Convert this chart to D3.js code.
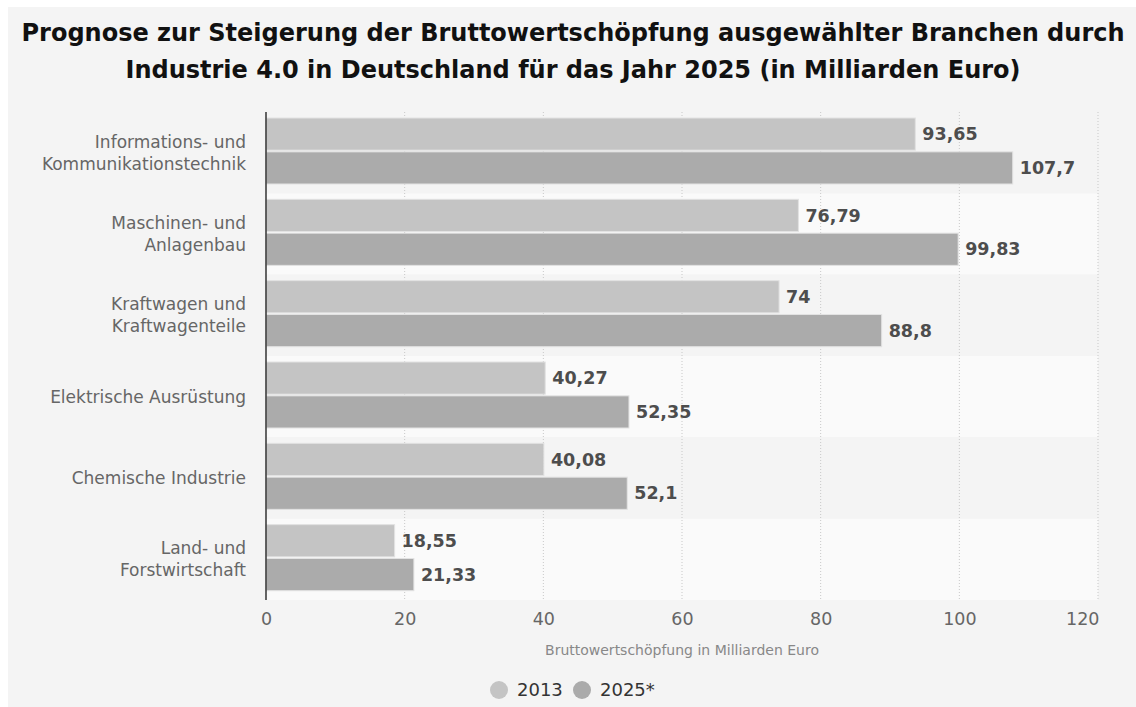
<!DOCTYPE html>
<html>
<head>
<meta charset="utf-8">
<script src="https://cdn.jsdelivr.net/npm/d3@7"></script>
<style>
  body { margin: 0; background: #fff; }
  svg { display: block; font-family: "DejaVu Sans", sans-serif; }
</style>
</head>
<body>
<script>
const categories = [
  ['Informations- und', 'Kommunikationstechnik'],
  ['Maschinen- und', 'Anlagenbau'],
  ['Kraftwagen und', 'Kraftwagenteile'],
  ['Elektrische Ausrüstung'],
  ['Chemische Industrie'],
  ['Land- und', 'Forstwirtschaft']
];
const series = ['2013', '2025*'];
const values2013 = [93.65, 76.79, 74, 40.27, 40.08, 18.55];
const values2025 = [107.7, 99.83, 88.8, 52.35, 52.1, 21.33];
const xTicks = [0, 20, 40, 60, 80, 100, 120];

const width = 1136;
const height = 707;
const margin = {top: 112, right: 38, bottom: 107, left: 266};
const colors = ['#c4c4c4', '#ababab'];

const svg = d3.select('body')
  .append('svg')
    .attr('width', width)
    .attr('height', height);

// panel background
svg.append('rect')
    .attr('x', 8).attr('y', 7)
    .attr('width', width - 8).attr('height', height - 7)
    .attr('fill', '#f4f4f4');

const x = d3.scaleLinear()
  .domain([0, 120])
  .range([margin.left, width - margin.right]);

const y = d3.scaleBand()
  .domain(d3.range(categories.length))
  .range([margin.top, height - margin.bottom]);

// the bar pair sits a bit high inside each band
const inner = d3.scaleBand()
  .domain(series)
  .range([6, 72])
  .paddingInner(0.05);

// alternating bands
svg.append('g')
  .selectAll('rect')
  .data(categories)
  .enter().append('rect')
    .attr('x', x(0))
    .attr('y', (d, i) => y(i))
    .attr('width', x(120) - x(0))
    .attr('height', y.bandwidth())
    .attr('fill', (d, i) => i % 2 ? '#fafafa' : '#f4f4f4');

// grid
svg.append('g')
  .selectAll('line')
  .data(xTicks.slice(1))
  .enter().append('line')
    .attr('x1', d => x(d)).attr('x2', d => x(d))
    .attr('y1', margin.top).attr('y2', height - margin.bottom)
    .attr('stroke', '#c8c8c8')
    .attr('stroke-dasharray', '1,2');

// bars
const rows = categories.map((c, i) => [values2013[i], values2025[i]]);
const groups = svg.append('g')
  .selectAll('g')
  .data(rows)
  .enter().append('g')
    .attr('transform', (d, i) => `translate(0, ${y(i)})`);

groups.selectAll('rect')
  .data(d => d.map((v, j) => ({v, j})))
  .enter().append('rect')
    .attr('x', x(0))
    .attr('y', d => inner(series[d.j]))
    .attr('width', d => x(d.v) - x(0))
    .attr('height', inner.bandwidth())
    .attr('fill', d => colors[d.j])
    .attr('stroke', '#e2e2e2')
    .attr('stroke-width', 1);

groups.selectAll('text')
  .data(d => d.map((v, j) => ({v, j})))
  .enter().append('text')
    .attr('x', d => x(d.v) + 7)
    .attr('y', d => inner(series[d.j]) + inner.bandwidth() / 2)
    .attr('dy', '0.35em')
    .attr('font-size', 17.5)
    .attr('font-weight', 'bold')
    .attr('fill', '#4d4d4d')
    .text(d => String(d.v).replace('.', ','));

// axis line
svg.append('line')
    .attr('x1', x(0)).attr('x2', x(0))
    .attr('y1', margin.top).attr('y2', height - margin.bottom)
    .attr('stroke', '#333')
    .attr('stroke-width', 1.5);

// x axis
const xAxis = svg.append('g')
    .attr('transform', `translate(0, ${height - margin.bottom})`)
    .call(d3.axisBottom(x).tickValues(xTicks).tickSize(0).tickPadding(13));
xAxis.select('.domain').remove();
xAxis.selectAll('text')
    .attr('font-family', '"DejaVu Sans", sans-serif')
    .attr('font-size', 17.5)
    .attr('fill', '#666');
// last label is pulled inside the plot, like the original
xAxis.selectAll('text')
    .filter(d => d === 120)
    .attr('text-anchor', 'end')
    .attr('x', 1);

svg.append('text')
    .attr('x', (x(0) + x(120)) / 2)
    .attr('y', 655)
    .attr('text-anchor', 'middle')
    .attr('font-size', 14)
    .attr('fill', '#888')
    .text('Bruttowertschöpfung in Milliarden Euro');

// category labels
const labels = svg.append('g')
  .selectAll('text')
  .data(categories)
  .enter().append('text')
    .attr('text-anchor', 'end')
    .attr('font-size', 17)
    .attr('fill', '#666')
    .attr('x', 246)
    .attr('y', (d, i) => y(i) + y.bandwidth() / 2 - (d.length - 1) * 11);
labels.selectAll('tspan')
  .data(d => d)
  .enter().append('tspan')
    .attr('x', 246)
    .attr('dy', (d, i) => i ? 22 : '0.35em')
    .text(d => d);

// title
const title = ['Prognose zur Steigerung der Bruttowertschöpfung ausgewählter Branchen durch',
  'Industrie 4.0 in Deutschland für das Jahr 2025 (in Milliarden Euro)'];
svg.append('g')
  .selectAll('text')
  .data(title)
  .enter().append('text')
    .attr('x', 573)
    .attr('y', (d, i) => 41 + i * 37)
    .attr('text-anchor', 'middle')
    .attr('font-size', 24)
    .attr('font-weight', 'bold')
    .attr('fill', '#111')
    .text(d => d);

// legend
const legend = svg.append('g')
  .selectAll('g')
  .data(series)
  .enter().append('g')
    .attr('transform', (d, i) => `translate(${499 + i * 83}, 690)`);
legend.append('circle')
    .attr('r', 9)
    .attr('fill', (d, i) => colors[i]);
legend.append('text')
    .attr('x', 18)
    .attr('dy', '0.35em')
    .attr('font-size', 18)
    .attr('fill', '#333')
    .text(d => d);
</script>
</body>
</html>
